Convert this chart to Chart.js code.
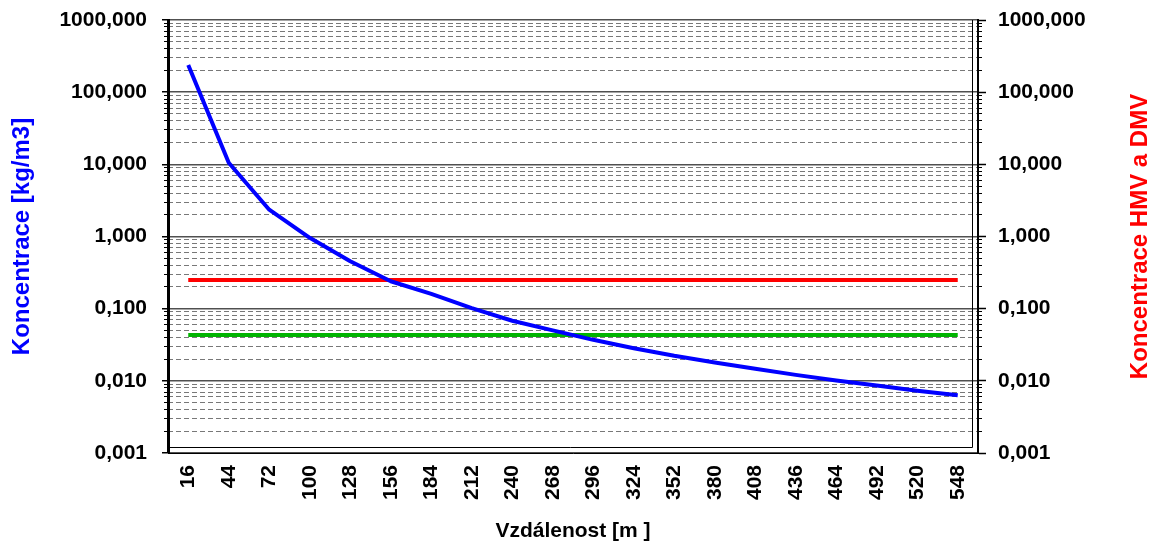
<!DOCTYPE html>
<html>
<head>
<meta charset="utf-8">
<script src="https://cdn.jsdelivr.net/npm/chart.js@4.4.0/dist/chart.umd.min.js"></script>
<style>
  html, body { margin: 0; padding: 0; background: #fff; }
  #wrap { width: 1157px; height: 548px; }
</style>
</head>
<body>
<div id="wrap"><canvas id="chart" width="1157" height="548"></canvas></div>
<script>
"use strict";

// vzdalenost [m]
const distances = [16, 44, 72, 100, 128, 156, 184, 212, 240, 268, 296, 324, 352, 380, 408, 436, 464, 492, 520, 548];
// koncentrace [kg/m3]
const concentration = [238, 10.5, 2.35, 0.96, 0.455, 0.24, 0.16, 0.102, 0.068, 0.05, 0.037, 0.0283, 0.0222, 0.018, 0.0147, 0.0121, 0.0101, 0.0086, 0.0073, 0.0063];
// limity HMV a DMV
const hmv = [0.25, 0.25, 0.25, 0.25, 0.25, 0.25, 0.25, 0.25, 0.25, 0.25, 0.25, 0.25, 0.25, 0.25, 0.25, 0.25, 0.25, 0.25, 0.25, 0.25];
const dmv = [0.043, 0.043, 0.043, 0.043, 0.043, 0.043, 0.043, 0.043, 0.043, 0.043, 0.043, 0.043, 0.043, 0.043, 0.043, 0.043, 0.043, 0.043, 0.043, 0.043];

const decades = [0.001, 0.01, 0.1, 1, 10, 100, 1000];
const decadeLabels = ['0,001', '0,010', '0,100', '1,000', '10,000', '100,000', '1000,000'];

const leftTitle = 'Koncentrace [kg/m3]';
const rightTitle = 'Koncentrace HMV a DMV';
const xTitle = 'Vzdálenost [m ]';

const family = '"Liberation Sans", Arial, sans-serif';
const tickFont = { family: family, size: 21, weight: 'bold' };

function majorTicks(scale) {
    scale.ticks = decades.map(v => ({ value: v }));
}
function minorTicks(scale) {
    const out = [];
    for (let i = 0; i < decades.length - 1; i++) {
        for (let k = 2; k <= 9; k++) out.push({ value: decades[i] * k });
    }
    scale.ticks = out;
}
function decadeLabel(v) {
    return decadeLabels[decades.indexOf(v)];
}
// pevna sirka osy, bez automatickeho odsazeni nahore/dole
function fixWidth(w) {
    return s => {
        s.width = w;
        s.paddingTop = 0;
        s.paddingBottom = 0;
    };
}

// vnitrni ramecek plochy grafu + nadpis prave osy (cte se zdola nahoru)
const extras = {
    id: 'extras',
    beforeDatasetsDraw(chart) {
        const ctx = chart.ctx, a = chart.chartArea;
        ctx.save();
        ctx.strokeStyle = '#000';
        ctx.lineWidth = 1;
        ctx.beginPath();
        ctx.moveTo(a.left, a.bottom - 5.5);
        ctx.lineTo(a.right - 5.5, a.bottom - 5.5);
        ctx.lineTo(a.right - 5.5, a.top);
        ctx.stroke();
        ctx.restore();
    },
    afterDraw(chart) {
        const ctx = chart.ctx, a = chart.chartArea, s = chart.scales.y2;
        ctx.save();
        ctx.translate(s.right - 17, (a.top + a.bottom) / 2);
        ctx.rotate(-Math.PI / 2);
        ctx.font = 'bold 24px ' + family;
        ctx.fillStyle = '#ff0000';
        ctx.textAlign = 'center';
        ctx.textBaseline = 'middle';
        ctx.fillText(rightTitle, 0, 0);
        ctx.restore();
    }
};

const config = {
    type: 'line',
    data: {
        labels: distances,
        datasets: [{
            label: 'Koncentrace',
            data: concentration,
            yAxisID: 'y',
            borderColor: '#0000ff',
            borderWidth: 4,
            pointRadius: 0,
            borderJoinStyle: 'round',
            order: 0
        }, {
            label: 'HMV',
            data: hmv,
            yAxisID: 'y',
            borderColor: '#ff0000',
            borderWidth: 4,
            pointRadius: 0,
            order: 1
        }, {
            label: 'DMV',
            data: dmv,
            yAxisID: 'y',
            borderColor: '#00b400',
            borderWidth: 4,
            pointRadius: 0,
            order: 2
        }]
    },
    options: {
        responsive: false,
        animation: false,
        devicePixelRatio: 1,
        layout: { padding: { top: 20, left: 0, right: 0, bottom: 0 } },
        plugins: {
            legend: { display: false },
            tooltip: { enabled: false }
        },
        scales: {
            x: {
                type: 'category',
                position: 'bottom',
                offset: true,
                afterFit: s => { s.height = 95; },
                grid: { display: false, drawTicks: false },
                border: { display: true, color: '#000', width: 1 },
                ticks: {
                    autoSkip: false, minRotation: 90, maxRotation: 90,
                    padding: 12, color: '#000', font: tickFont
                },
                title: {
                    display: true, text: xTitle, color: '#000',
                    font: { family: family, size: 21, weight: 'bold' },
                    padding: { top: 0, bottom: 4 }
                }
            },
            y: {
                type: 'logarithmic',
                position: 'left',
                weight: 1,
                min: 0.001,
                max: 1000,
                afterBuildTicks: majorTicks,
                afterFit: fixWidth(168),
                ticks: { autoSkip: false, padding: 15, color: '#000', font: tickFont, callback: decadeLabel },
                grid: { color: '#505050', lineWidth: 1.5, tickLength: 6, tickColor: '#000', tickWidth: 1.5 },
                border: { display: true, color: '#000', width: 3 },
                title: {
                    display: true, text: leftTitle, color: '#0000ff',
                    font: { family: family, size: 24, weight: 'bold' },
                    padding: { top: 8, bottom: 0 }
                }
            },
            yMinor: {
                type: 'logarithmic',
                position: 'left',
                weight: 0,
                min: 0.001,
                max: 1000,
                afterBuildTicks: minorTicks,
                afterFit: fixWidth(0),
                ticks: { display: false, autoSkip: false },
                grid: { color: '#787878', lineWidth: 1, tickLength: 4, tickColor: '#000' },
                border: { display: false, dash: [5, 3] }
            },
            y2: {
                type: 'logarithmic',
                position: 'right',
                weight: 1,
                min: 0.001,
                max: 1000,
                afterBuildTicks: majorTicks,
                afterFit: fixWidth(179),
                ticks: { autoSkip: false, padding: 12, color: '#000', font: tickFont, callback: decadeLabel },
                grid: { drawOnChartArea: false, tickLength: 8, tickColor: '#000', tickWidth: 1.5 },
                border: { display: true, color: '#000', width: 2 }
            },
            y2Minor: {
                type: 'logarithmic',
                position: 'right',
                weight: 0,
                min: 0.001,
                max: 1000,
                afterBuildTicks: minorTicks,
                afterFit: fixWidth(0),
                ticks: { display: false, autoSkip: false },
                grid: { drawOnChartArea: false, tickLength: 4, tickColor: '#000' },
                border: { display: false }
            }
        }
    },
    plugins: [extras]
};

const myChart = new Chart(document.getElementById('chart'), config);
</script>
</body>
</html>
